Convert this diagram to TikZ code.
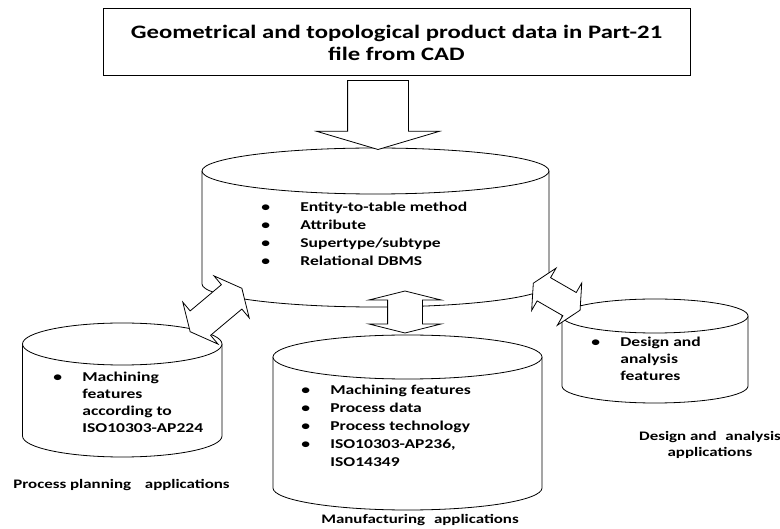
\documentclass[tikz,border=0pt]{standalone}
\usepackage{fontspec}
\setmainfont{Carlito}[FakeStretch=1.3]
\usetikzlibrary{shapes.arrows}

\begin{document}
\begin{tikzpicture}[
    x=1pt,
    y=1pt,
    line width=0.8pt,
    src/.style={
        draw,
        line width=1pt,
        minimum width=587pt,
        minimum height=67pt,
        inner sep=0pt,
        align=center,
        font=\fontsize{19}{22}\selectfont\bfseries
    },
    cyl/.style={draw, fill=white},
    items/.style={anchor=north west, align=left, inner sep=0pt,
        font=\fontsize{13.5}{18}\selectfont\bfseries},
    itemsx/.style={items, font=\fontsize{13.5}{17}\selectfont\bfseries},
    caption/.style={inner sep=0pt, align=center,
        font=\fontsize{13}{16.5}\selectfont\bfseries},
    flow/.style={draw, fill=white, inner xsep=0pt},
    both/.style={flow, double arrow}
]
\useasboundingbox (0,0) rectangle (780,-529);

% ============================================================
% QUELLE: PART-21 DATEI
% ============================================================
\node[src] (cad) at (396.5,-42.5) {Geometrical and topological product data in Part-21\\file from CAD};

% ============================================================
% ZYLINDER (DATENBANKEN)
% ============================================================
% zentrale Datenbank
\draw[cyl] (202,-171) -- (202,-284) arc[start angle=180, end angle=360, x radius=173.5pt, y radius=23pt] -- (549,-171);
\draw[cyl] (375.5,-171) ellipse[x radius=173.5pt, y radius=23pt];
% Prozessplanung
\draw[cyl] (22.5,-344) -- (22.5,-436) arc[start angle=180, end angle=360, x radius=99.75pt, y radius=21pt] -- (222,-344);
\draw[cyl] (122.25,-344) ellipse[x radius=99.75pt, y radius=21pt];
% Fertigung
\draw[cyl] (273,-357) -- (273,-488) arc[start angle=180, end angle=360, x radius=134.5pt, y radius=22pt] -- (542,-357);
\draw[cyl] (407.5,-357) ellipse[x radius=134.5pt, y radius=22pt];
% Konstruktion und Analyse
\draw[cyl] (562,-316) -- (562,-386) arc[start angle=180, end angle=360, x radius=93pt, y radius=17pt] -- (748,-316);
\draw[cyl] (655,-316) ellipse[x radius=93pt, y radius=17pt];

% ============================================================
% INHALTE
% ============================================================
\node[items] (dbtext) at (261,-202) {%
    \makebox[39pt][l]{\textbullet}Entity-to-table method\\
    \makebox[39pt][l]{\textbullet}Attribute\\
    \makebox[39pt][l]{\textbullet}Supertype/subtype\\
    \makebox[39pt][l]{\textbullet}Relational DBMS};
\node[itemsx] (pptext) at (53,-372) {%
    \makebox[29pt][l]{\textbullet}Machining\\
    \hspace*{29pt}features\\
    \hspace*{29pt}according to\\
    \hspace*{29pt}ISO10303-AP224};
\node[items] (mfgtext) at (301,-385) {%
    \makebox[29pt][l]{\textbullet}Machining features\\
    \makebox[29pt][l]{\textbullet}Process data\\
    \makebox[29pt][l]{\textbullet}Process technology\\
    \makebox[29pt][l]{\textbullet}ISO10303-AP236,\\
    \hspace*{29pt}ISO14349};
\node[itemsx] (datext) at (591,-337) {%
    \makebox[29pt][l]{\textbullet}Design and\\
    \hspace*{29pt}analysis\\
    \hspace*{29pt}features};

\node[caption, anchor=west] (pplab) at (13,-485) {Process planning\hspace{10pt} applications};
\node[caption] (mfglab) at (420,-520) {Manufacturing\hspace{5pt} applications};
\node[caption] (dalab) at (710,-445) {Design and\hspace{5pt} analysis\\applications};

% ============================================================
% BLOCKPFEILE
% ============================================================
\node[flow, single arrow, rotate=-90, minimum height=69pt, inner ysep=30pt,
      single arrow head extend=31pt, single arrow tip angle=147] (feed) at (378,-110.5) {};
\node[both, rotate=40, minimum height=67.5pt, inner ysep=15.5pt,
      double arrow head extend=11.5pt, double arrow tip angle=128] (toplan) at (216,-310) {};
\node[both, rotate=90, minimum height=42pt, inner ysep=17pt,
      double arrow head extend=19pt, double arrow tip angle=152] (tomfg) at (405,-312) {};
\node[both, rotate=-30, minimum height=54pt, inner ysep=13pt,
      double arrow head extend=11pt, double arrow tip angle=127] (todesign) at (556.7,-296.7) {};

\end{tikzpicture}
\end{document}
